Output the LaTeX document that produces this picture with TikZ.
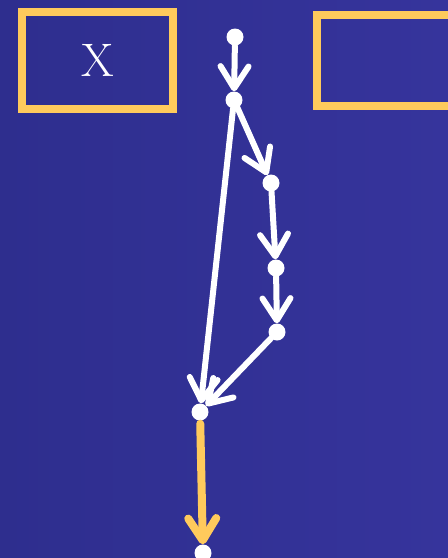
\documentclass[tikz,border=0pt]{standalone}
\usepackage{tikz}
\usetikzlibrary{
    arrows.meta,
    positioning
}
\definecolor{bgleft}{RGB}{46,46,142}
\definecolor{bgright}{RGB}{54,52,156}
\definecolor{gold}{RGB}{255,202,92}

\begin{document}
\begin{tikzpicture}[
    x=1pt, y=-1pt,
    box/.style={rectangle, draw=gold, line width=8pt, text=white,
      font=\fontsize{47}{47}\selectfont, inner sep=0pt},
    dot/.style={circle, fill=white, inner sep=0pt, minimum size=17pt},
    edge/.style={-{Straight Barb[length=22pt, width=28pt, line cap=round, line join=round]},
      line width=6pt, white, line cap=round},
    outedge/.style={edge, gold, line width=8pt}
]
\useasboundingbox (0,0) rectangle (448,558);
\clip (0,0) rectangle (448,558);
\shade[left color=bgleft, right color=bgright] (0,0) rectangle (448,558);
% boxes
\node[box, minimum width=151.5pt, minimum height=97.5pt] (xbox) at (97.5,60.25) {X};
\node[box, minimum width=160pt, minimum height=90.5pt, anchor=west] (ybox) at (313,60.25) {};
% dots
\node[dot] (a) at (235,37) {};
\node[dot] (b) at (234,100) {};
\node[dot] (c) at (271,183) {};
\node[dot] (d) at (276,268) {};
\node[dot] (e) at (277,332) {};
\node[dot] (f) at (200,412) {};
\node[dot] (g) at (203,553) {};
% connectors
\draw[edge] (a) -- (b);
\draw[edge] (b) -- (c);
\draw[edge] (c) -- (d);
\draw[edge] (d) -- (e);
\draw[edge] (b) -- (f);
\draw[edge] (e) -- (f);
\draw[outedge, shorten <=3pt] (f) -- (g);
\end{tikzpicture}
\end{document}
